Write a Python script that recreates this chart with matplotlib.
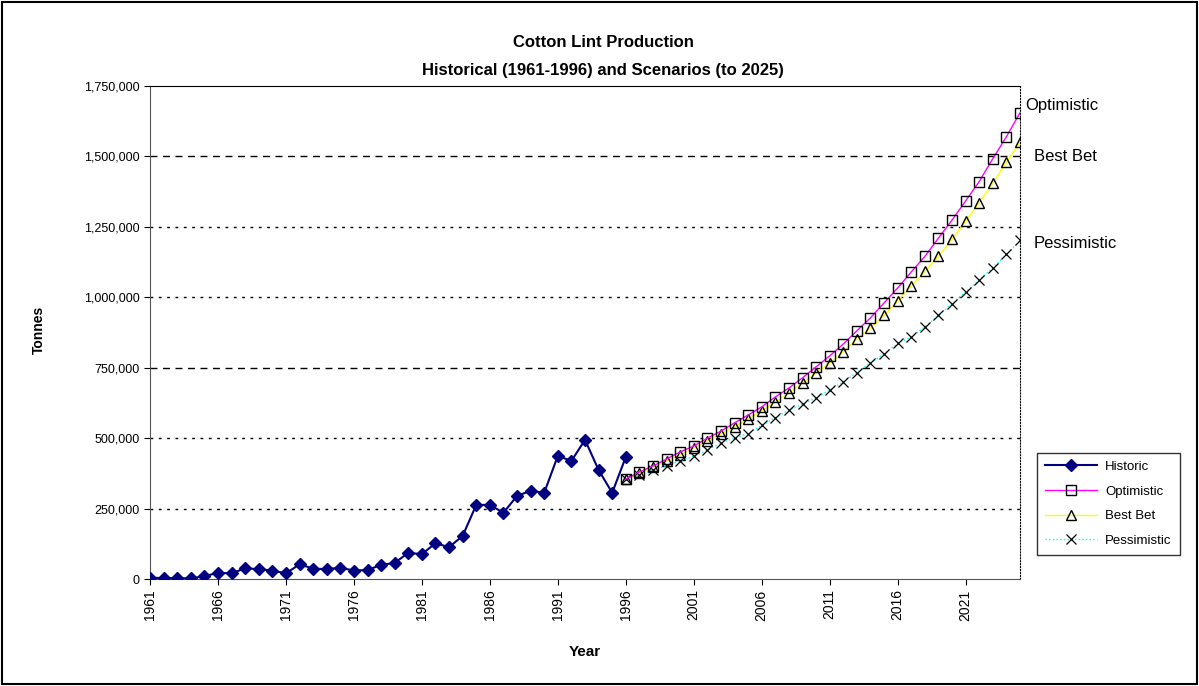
import numpy as np
import matplotlib.pyplot as plt
from matplotlib.ticker import FuncFormatter
from matplotlib.patches import Rectangle

plt.rcParams['font.family'] = ['Liberation Sans', 'DejaVu Sans']

# Historic production, 1961-1996 (tonnes)
hist_years = list(range(1961, 1997))
historic = [5000, 3000, 3000, 2000, 10000, 22000, 20000, 38000, 35000, 30000,
            20000, 52000, 37000, 35000, 40000, 30000, 32000, 50000, 57000, 93000,
            88000, 127000, 113000, 153000, 263000, 263000, 235000, 295000, 313000, 306000,
            437000, 419000, 494000, 387000, 306000, 433000]

# Scenarios, 1996-2025 (tonnes)
scen_years = list(range(1996, 2026))
optimistic = [355000, 380000, 401000, 426000, 451000, 472000, 500000, 525000, 554000, 582000,
              611000, 646000, 678000, 714000, 753000, 792000, 834000, 881000, 927000, 980000,
              1033000, 1090000, 1145000, 1210000, 1274000, 1342000, 1411000, 1492000, 1570000, 1655000]
best_bet = [355000, 376000, 398000, 419000, 440000, 465000, 490000, 515000, 540000, 568000,
            597000, 628000, 660000, 696000, 731000, 767000, 806000, 852000, 891000, 937000,
            987000, 1040000, 1092000, 1146000, 1206000, 1270000, 1336000, 1406000, 1480000, 1550000]
pessimistic = [355000, 370000, 386000, 402000, 420000, 436000, 458000, 482000, 501000, 516000,
               545000, 573000, 600000, 620000, 643000, 670000, 700000, 733000, 767000, 800000,
               836000, 859000, 895000, 936000, 977000, 1019000, 1062000, 1105000, 1152000, 1202000]

fig = plt.figure(figsize=(11.99, 6.86), dpi=100)
ax = fig.add_axes([150/1199, 1-579/686, 870/1199, 493/686])

ax.plot(hist_years, historic, color='#000080', lw=1.5, marker='D', ms=6.5,
        mfc='#000080', mec='#000080', label='Historic', zorder=5)
ax.plot(scen_years, optimistic, color='#ff00ff', lw=1, marker='s', ms=7,
        mfc='none', mec='black', mew=1, label='Optimistic', zorder=4)
ax.plot(scen_years, best_bet, color='#ffff00', lw=1, marker='^', ms=7,
        mfc='none', mec='black', mew=1, label='Best Bet', zorder=3)
ax.plot(scen_years, pessimistic, color='#00ffff', lw=1, ls=':', marker='x', ms=7,
        mec='black', mew=0.9, label='Pessimistic', zorder=3)

ax.set_xlim(1961, 2025)
ax.set_ylim(0, 1750000)

# gridlines
for v in [250000, 500000, 1000000, 1250000]:
    ax.axhline(v, color='black', lw=1, ls=(0, (2, 4)), zorder=1)
for v in [750000, 1500000]:
    ax.axhline(v, color='black', lw=1, ls=(0, (5, 4)), zorder=1)

ax.set_yticks(np.arange(0, 1750001, 250000))
ax.yaxis.set_major_formatter(FuncFormatter(lambda v, p: f'{int(v):,}'))
ax.set_xticks(list(range(1961, 2025, 5)))
ax.set_xticklabels([str(y) for y in range(1961, 2025, 5)], rotation=90)
ax.tick_params(axis='y', labelsize=9, direction='out', length=4, color='black')
ax.tick_params(axis='x', labelsize=10, direction='out', length=4, color='black')

ax.spines['top'].set_color('black')
ax.spines['right'].set_linestyle(':')
ax.spines['left'].set_color('#555555')
ax.spines['bottom'].set_color('#555555')

ax.set_ylabel('Tonnes', fontsize=10, fontweight='bold')
ax.yaxis.set_label_coords(-0.12, 0.505)
ax.set_xlabel('Year', fontsize=11, fontweight='bold')
ax.xaxis.set_label_coords(0.5, -0.134)

fig.text(0.503, 0.938, 'Cotton Lint Production', ha='center', va='center',
         fontsize=12, fontweight='bold')
fig.text(0.503, 0.897, 'Historical (1961-1996) and Scenarios (to 2025)', ha='center',
         va='center', fontsize=12, fontweight='bold')

ax.annotate('Optimistic', xy=(2025, optimistic[-1]), xytext=(4, 5),
            textcoords='offset points', fontsize=12, va='center', annotation_clip=False)
ax.annotate('Best Bet', xy=(2025, best_bet[-1]), xytext=(10, -10),
            textcoords='offset points', fontsize=12, va='center', annotation_clip=False)
ax.annotate('Pessimistic', xy=(2025, pessimistic[-1]), xytext=(10, -2),
            textcoords='offset points', fontsize=12, va='center', annotation_clip=False)

leg = ax.legend(loc='upper left', bbox_to_anchor=(1030/1199, 1-446/686),
                bbox_transform=fig.transFigure, fontsize=9.5, frameon=True,
                fancybox=False, edgecolor='black', handlelength=4, borderpad=0.6,
                labelspacing=0.95, handletextpad=0.6)
leg.get_frame().set_linewidth(1)

fig.patches.append(Rectangle((0.002, 0.003), 0.996, 0.994, transform=fig.transFigure,
                             fill=False, edgecolor='black', lw=1.5))

fig.savefig('out.png', dpi=100)
